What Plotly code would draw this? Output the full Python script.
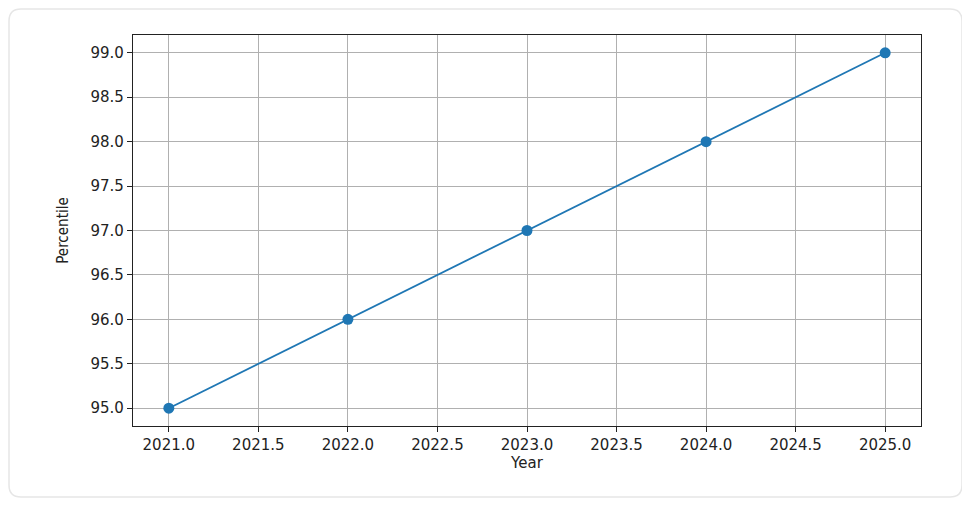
import plotly.graph_objects as go

years = [2021, 2022, 2023, 2024, 2025]
percentile = [95, 96, 97, 98, 99]

x_ticks = [2021.0, 2021.5, 2022.0, 2022.5, 2023.0, 2023.5, 2024.0, 2024.5, 2025.0]
y_ticks = [95.0, 95.5, 96.0, 96.5, 97.0, 97.5, 98.0, 98.5, 99.0]

# the page body adds ~8px, so work in figure pixels shifted by that
OFF = 8
W, H = 970 - OFF, 510 - OFF
L, R, T, B = 133 - OFF, 921 - OFF, 35 - OFF, 426 - OFF


def px(v):
    return (v - L) / (R - L)


def py(v):
    return (B - v) / (B - T)


# rounded card around the whole chart
cx0, cx1, cy0, cy1, rad = 1, 954, 1, 489, 12
rx, ry = rad / (R - L), rad / (B - T)
x0, x1, yt, yb = px(cx0), px(cx1), py(cy0), py(cy1)
card = (f"M {x0 + rx},{yt} L {x1 - rx},{yt} Q {x1},{yt} {x1},{yt - ry} "
        f"L {x1},{yb + ry} Q {x1},{yb} {x1 - rx},{yb} "
        f"L {x0 + rx},{yb} Q {x0},{yb} {x0},{yb + ry} "
        f"L {x0},{yt - ry} Q {x0},{yt} {x0 + rx},{yt} Z")

fig = go.Figure()
fig.add_trace(go.Scatter(
    x=years, y=percentile, mode="lines+markers",
    line=dict(color="#1f77b4", width=1.8),
    marker=dict(color="#1f77b4", size=11),
))

fig.update_layout(
    width=W, height=H,
    margin=dict(l=L, r=W - R, t=T, b=H - B),
    paper_bgcolor="white", plot_bgcolor="white",
    showlegend=False,
    font=dict(family="DejaVu Sans", size=15, color="#222"),
    shapes=[dict(type="path", xref="paper", yref="paper", path=card,
                 line=dict(color="#e6e6e6", width=1.5), layer="below")],
)
fig.update_xaxes(
    range=[2020.8, 2025.2], tickvals=x_ticks,
    ticktext=[f"{v:.1f}" for v in x_ticks],
    showgrid=True, gridcolor="#b0b0b0", gridwidth=1,
    showline=True, linecolor="#222", linewidth=1.2, mirror=True,
    ticks="outside", ticklen=5, tickcolor="#222",
    zeroline=False,
    title=dict(text="Year", standoff=4, font=dict(size=15)),
)
fig.update_yaxes(
    range=[94.8, 99.2], tickvals=y_ticks,
    ticktext=[f"{v:.1f}" for v in y_ticks],
    showgrid=True, gridcolor="#b0b0b0", gridwidth=1,
    showline=True, linecolor="#222", linewidth=1.2, mirror=True,
    ticks="outside", ticklen=5, tickcolor="#222",
    zeroline=False,
    title=dict(text="Percentile", standoff=18,
               font=dict(family="DejaVu Sans Condensed", size=15)),
)

fig.write_html("out.html")
